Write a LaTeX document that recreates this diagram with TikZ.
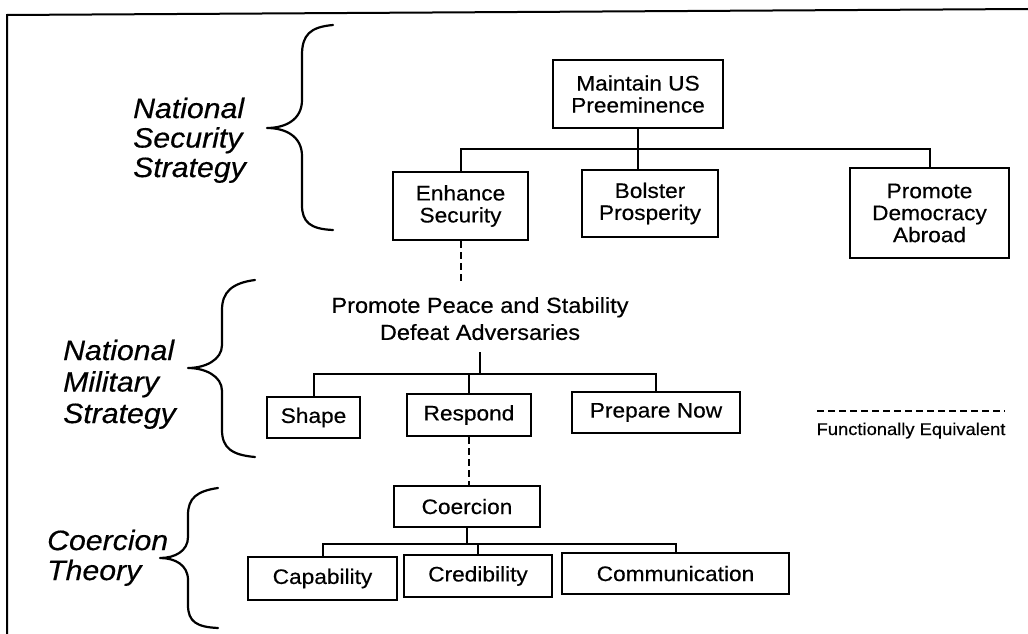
\documentclass[tikz,border=0pt]{standalone}
\usepackage{fontspec}
\setmainfont{Liberation Sans}[FakeStretch=1.08,FakeBold=0.4]
\newcommand\boxfont{\fontsize{21}{22}\selectfont}
\newcommand\midfont{\fontsize{21.8}{27}\selectfont}
\newcommand\lblfontA{\fontsize{28}{29.5}\selectfont\itshape}
\newcommand\lblfontB{\fontsize{28}{31.5}\selectfont\itshape}
\newcommand\lblfontC{\fontsize{28}{30}\selectfont\itshape}
\newcommand\legfont{\fontsize{17}{19}\selectfont}
\begin{document}
\begin{tikzpicture}[x=1pt,y=-1pt,
  box/.style={draw, line width=2pt, inner sep=0pt, align=center, font=\boxfont},
  conn/.style={line width=2pt},
  eqv/.style={line width=2pt, dash pattern=on 7pt off 4pt},
  bracecurve/.style={line width=2.2pt, line cap=round, line join=round},
  lbl/.style={align=left, inner sep=0pt, anchor=west},
  frameline/.style={line width=2pt}]
\useasboundingbox (0,0) rectangle (1028,634);
\draw[frameline] (1028,9) -- (7,15) -- (7,634);

% ---- labels
\node[lbl, font=\lblfontA] (nssl) at (133,140.3) {National\\Security\\Strategy};
\node[lbl, font=\lblfontB] (nmsl) at (63,384.3) {National\\Military\\Strategy};
\node[lbl, font=\lblfontC] (ctl) at (47,557.8) {Coercion\\Theory};

% ---- braces
\draw[bracecurve] (333,25) .. controls (310,27) and (302,35) .. (302,55) -- (302,100)
  .. controls (302,120) and (285,128) .. (267,128)
  .. controls (285,128) and (302,136) .. (302,156) -- (302,205)
  .. controls (302,222) and (310,229) .. (333,230);
\draw[bracecurve] (255,280) .. controls (232,283) and (222,292) .. (222,310) -- (222,345)
  .. controls (222,360) and (205,368) .. (188,368)
  .. controls (205,368) and (222,376) .. (222,391) -- (222,430)
  .. controls (222,448) and (232,455) .. (255,457);
\draw[bracecurve] (218,488) .. controls (197,491) and (188,498) .. (188,515) -- (188,537)
  .. controls (188,551) and (175,558) .. (160,558)
  .. controls (175,558) and (188,565) .. (188,580) -- (188,605)
  .. controls (188,622) and (197,627) .. (218,628);

% ---- row 1
\node[box, minimum width=170pt, minimum height=68pt] (maintain) at (638,94) {Maintain US\\Preeminence};
\node[box, minimum width=135pt, minimum height=68pt] (enhance) at (460.5,206) {Enhance\\Security};
\node[box, minimum width=136pt, minimum height=67pt] (bolster) at (650,203.5) {Bolster\\Prosperity};
\node[box, minimum width=159pt, minimum height=90pt] (promote) at (929.5,213) {Promote\\Democracy\\Abroad};
\coordinate (bus1) at (638,149);
\draw[conn] (maintain.south) -- (maintain.south |- bolster.north);
\draw[conn] (enhance.north) |- (bus1) -| (promote.north);

% ---- row 2
\node[font=\midfont, align=center, inner xsep=4pt, inner ysep=12pt] (nms) at (480,318.6) {Promote Peace and Stability\\Defeat Adversaries};
\draw[eqv] (enhance.south) -- (enhance.south |- nms.north);
\node[box, minimum width=93pt, minimum height=41pt] (shape) at (313.5,417.5) {Shape};
\node[box, minimum width=124pt, minimum height=42pt] (respond) at (469,415) {Respond};
\node[box, minimum width=168pt, minimum height=41pt] (prepare) at (656,412.5) {Prepare Now};
\coordinate (bus2) at (480,374);
\draw[conn] (nms.south) -- (nms.south |- bus2);
\draw[conn] (shape.north) |- (bus2) -| (prepare.north);
\draw[conn] (respond.north) -- (respond.north |- bus2);

% ---- legend
\coordinate (leqa) at (817,411);
\coordinate (leqb) at (1005,411);
\draw[eqv] (leqa) -- (leqb);
\node[font=\legfont, anchor=base, inner sep=0pt] (legtxt) at (911,435) {Functionally Equivalent};

% ---- row 3
\node[box, minimum width=146pt, minimum height=41pt] (coercion) at (467,506.5) {Coercion};
\draw[eqv] (respond.south) -- (respond.south |- coercion.north);
\node[box, minimum width=149pt, minimum height=43pt] (capability) at (322.5,578.5) {Capability};
\node[box, minimum width=148pt, minimum height=42pt] (credibility) at (478,576) {Credibility};
\node[box, minimum width=227pt, minimum height=41pt] (communication) at (675.5,573.5) {Communication};
\coordinate (bus3) at (467,544);
\draw[conn] (coercion.south) -- (coercion.south |- bus3);
\draw[conn] (capability.north) |- (bus3) -| (communication.north);
\draw[conn] (credibility.north) -- (credibility.north |- bus3);
\end{tikzpicture}
\end{document}
